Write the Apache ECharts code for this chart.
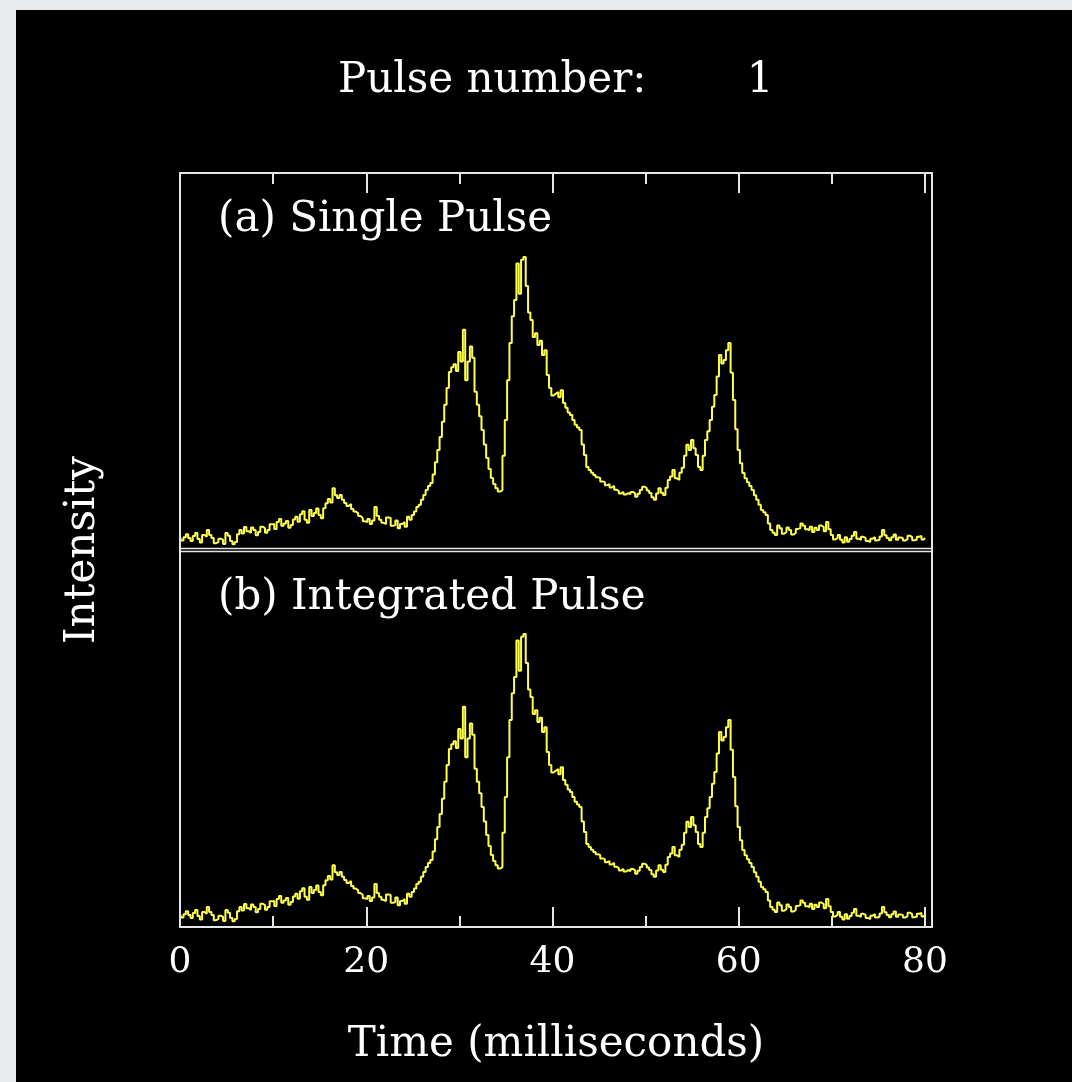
<!DOCTYPE html>
<html>
<head>
<meta charset="utf-8">
<script src="https://cdn.jsdelivr.net/npm/echarts@6/dist/echarts.min.js"></script>
<style>
  html, body { margin: 0; padding: 0; background: #e9ebef; width: 1072px; height: 1082px; overflow: hidden; }
  #chart { position: absolute; left: 16px; top: 10px; width: 1056px; height: 1072px; background: #000; }
</style>
</head>
<body>
<div id="chart"></div>
<script>
// ---- data ----
const BIN_MS = 0.25; // sample spacing, milliseconds
const singlePulse = [
  3.4, 2.5, 3.4, 4.2, 3.2, 2.4, 3.7, 4.5, 2.9, 2.0,
  4.0, 3.5, 5.3, 4.0, 3.2, 1.8, 2.1, 3.0, 2.7, 1.6,
  4.5, 3.8, 2.4, 1.5, 2.1, 4.2, 5.3, 4.4, 6.1, 5.0,
  4.5, 6.0, 5.3, 3.9, 4.8, 6.2, 5.8, 4.6, 5.3, 6.8,
  6.9, 5.6, 7.4, 8.2, 6.4, 7.0, 7.7, 5.9, 6.6, 8.1,
  8.8, 7.5, 9.5, 10.3, 8.0, 7.2, 10.6, 9.0, 9.8, 11.0,
  9.3, 8.4, 11.1, 12.4, 13.5, 12.6, 16.4, 14.5, 13.8, 14.6,
  13.3, 12.5, 11.7, 12.2, 10.9, 10.2, 9.8, 9.0, 8.5, 7.6,
  7.4, 8.2, 6.9, 7.8, 11.4, 9.0, 8.0, 7.2, 6.9, 8.6,
  8.5, 6.4, 6.6, 7.8, 5.8, 6.9, 7.4, 6.2, 8.8, 8.0,
  9.3, 10.2, 11.4, 12.0, 13.3, 14.6, 15.9, 17.0, 17.8, 20.0,
  23.3, 26.5, 30.0, 34.0, 38.5, 43.0, 47.2, 48.5, 49.3, 47.5,
  52.5, 50.0, 58.4, 45.0, 50.0, 54.0, 51.0, 42.0, 38.5, 35.5,
  31.8, 28.0, 24.4, 21.5, 19.1, 17.5, 16.4, 15.5, 15.9, 25.0,
  34.5, 45.0, 54.9, 62.0, 66.3, 76.0, 68.0, 77.0, 77.7, 70.0,
  63.0, 61.0, 56.5, 57.5, 54.4, 55.5, 51.7, 53.0, 46.4, 43.0,
  41.0, 41.5, 41.9, 40.5, 42.4, 39.0, 37.7, 36.5, 35.8, 34.5,
  33.2, 32.5, 31.8, 28.0, 25.2, 22.0, 21.2, 20.5, 19.9, 19.3,
  19.1, 18.2, 18.0, 17.2, 17.5, 16.6, 17.0, 16.0, 15.6, 15.0,
  15.4, 14.7, 15.1, 14.8, 15.4, 15.0, 14.1, 14.9, 15.9, 16.8,
  16.4, 15.8, 15.1, 14.0, 13.3, 15.0, 16.4, 15.2, 14.6, 16.5,
  18.6, 19.5, 21.2, 19.0, 18.6, 20.5, 21.8, 25.0, 27.9, 26.5,
  29.2, 27.0, 25.2, 22.0, 21.2, 25.0, 29.2, 31.5, 34.5, 38.0,
  41.1, 46.0, 51.7, 49.5, 50.4, 53.0, 54.9, 47.0, 39.8, 32.0,
  26.5, 23.0, 20.4, 19.0, 18.0, 17.0, 15.9, 14.5, 13.3, 12.0,
  10.6, 10.0, 9.3, 7.0, 5.3, 4.6, 4.0, 6.5, 5.8, 4.3,
  4.8, 6.0, 5.3, 4.1, 4.5, 5.6, 5.8, 7.0, 6.4, 5.5,
  5.3, 6.2, 4.8, 5.9, 5.3, 6.5, 6.1, 5.0, 7.4, 5.5,
  4.0, 2.8, 3.2, 4.0, 2.7, 2.0, 3.4, 2.2, 2.9, 3.8,
  4.8, 3.0, 2.7, 3.5, 3.2, 2.4, 2.1, 3.0, 3.4, 2.5,
  2.7, 3.6, 5.3, 3.9, 3.2, 2.6, 3.4, 4.1, 2.7, 3.3,
  3.2, 2.5, 2.9, 3.8, 3.4, 2.6, 2.7, 3.5, 3.7, 2.8,
  3.2
];
// after pulse number 1 the integrated profile equals the single pulse
const integratedPulse = singlePulse.slice();
const pulseNumber = 1;
const xTickLabels = [0, 20, 40, 60, 80];

const times = singlePulse.map((_, i) => i * BIN_MS);
const pairs = arr => arr.map((v, i) => [times[i], v]);

// ---- chart ----
const chart = echarts.init(document.getElementById('chart'), null, { renderer: 'canvas' });
const FONT = '"DejaVu Serif", "Liberation Serif", serif';
const FRAME = '#e6e6e6';
const LINE = '#ffff50';

function xAxisCfg(grid, pos, showLabels) {
  return {
    gridIndex: grid, type: 'value', min: 0, max: 80, interval: 20, position: pos,
    axisLine: { show: false, onZero: false },
    axisTick: { show: true, inside: true, length: 20, lineStyle: { color: FRAME, width: 2 } },
    minorTick: { show: true, splitNumber: 2, length: 11, lineStyle: { color: FRAME, width: 2 } },
    splitLine: { show: false }, minorSplitLine: { show: false },
    axisLabel: {
      show: showLabels, color: '#ffffff', fontFamily: FONT, fontSize: 36, margin: 18,
      formatter: v => (xTickLabels.indexOf(v) >= 0 ? String(v) : '')
    }
  };
}
function yAxisCfg(grid) {
  return {
    gridIndex: grid, type: 'value', min: 0, max: 100,
    axisLine: { show: false }, axisTick: { show: false }, axisLabel: { show: false }, splitLine: { show: false }
  };
}

const L = 164, FRAME_R = 916, TOP = 163, MID = 540, BOT = 917;

chart.setOption({
  backgroundColor: '#000000',
  animation: false,
  grid: [
    { left: L, top: TOP, width: 745, height: MID - TOP },
    { left: L, top: MID, width: 745, height: BOT - MID }
  ],
  xAxis: [xAxisCfg(0, 'top', false), xAxisCfg(1, 'bottom', true)],
  yAxis: [yAxisCfg(0), yAxisCfg(1)],
  series: [
    { type: 'line', name: 'Single Pulse', xAxisIndex: 0, yAxisIndex: 0, data: pairs(singlePulse),
      step: 'middle', showSymbol: false, lineStyle: { color: LINE, width: 2 }, z: 3 },
    { type: 'line', name: 'Integrated Pulse', xAxisIndex: 1, yAxisIndex: 1, data: pairs(integratedPulse),
      step: 'middle', showSymbol: false, lineStyle: { color: LINE, width: 2 }, z: 3 }
  ],
  graphic: [
    { type: 'rect', shape: { x: L, y: TOP, width: FRAME_R - L, height: BOT - TOP },
      style: { fill: null, stroke: FRAME, lineWidth: 2 }, z: 10, silent: true },
    { type: 'line', shape: { x1: L, y1: MID - 1.5, x2: FRAME_R, y2: MID - 1.5 },
      style: { stroke: FRAME, lineWidth: 1.5 }, z: 10, silent: true },
    { type: 'line', shape: { x1: L, y1: MID + 1.5, x2: FRAME_R, y2: MID + 1.5 },
      style: { stroke: FRAME, lineWidth: 1.5 }, z: 10, silent: true },
    { type: 'text', x: 322, y: 71, style: { text: 'Pulse number:', fill: '#fff', font: '42px ' + FONT, textAlign: 'left', textVerticalAlign: 'middle' } },
    { type: 'text', x: 744, y: 71, style: { text: String(pulseNumber), fill: '#fff', font: '42px ' + FONT, textAlign: 'center', textVerticalAlign: 'middle' } },
    { type: 'text', x: 202, y: 210, style: { text: '(a) Single Pulse', fill: '#fff', font: '42px ' + FONT, textAlign: 'left', textVerticalAlign: 'middle' } },
    { type: 'text', x: 202, y: 588, style: { text: '(b) Integrated Pulse', fill: '#fff', font: '42px ' + FONT, textAlign: 'left', textVerticalAlign: 'middle' } },
    { type: 'text', x: 540, y: 1035, style: { text: 'Time (milliseconds)', fill: '#fff', font: '42px ' + FONT, textAlign: 'center', textVerticalAlign: 'middle' } },
    { type: 'text', x: 67, y: 540, rotation: Math.PI / 2, style: { text: 'Intensity', fill: '#fff', font: '42px ' + FONT, textAlign: 'center', textVerticalAlign: 'middle' } }
  ]
});
</script>
</body>
</html>
